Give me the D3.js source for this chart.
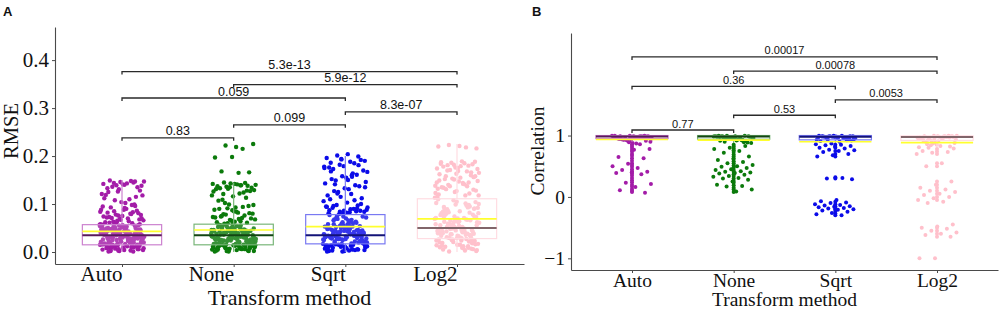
<!DOCTYPE html>
<html><head><meta charset="utf-8">
<script src="https://cdn.jsdelivr.net/npm/d3@7"></script>
<style>body{margin:0;background:#fff}svg{display:block}</style>
</head><body><svg id="c" width="1000" height="309"></svg>
<script>
// ---------- DATA ----------
const categories = ["Auto","None","Sqrt","Log2"];
const groupColors = ["#a31ca8","#0b7a0b","#0b0be8","#ffc0cb"];

// Panel A: RMSE
const rmseAuto = [0.031,0.012,0.047,0.005,0.026,0.038,0.019,0.052,0.008,0.034,0.041,0.015,0.029,0.003,0.056,0.022,0.036,0.010,0.044,0.027,
0.017,0.050,0.033,0.006,0.039,0.024,0.013,0.058,0.030,0.046,0.001,0.035,0.020,0.053,0.009,0.042,0.028,0.016,0.037,0.048,
0.023,0.004,0.032,0.055,0.014,0.040,0.025,0.011,0.045,0.034,0.018,0.060,0.007,0.030,0.043,0.021,0.036,0.002,0.051,0.027,
0.015,0.039,0.033,0.049,0.010,0.025,0.057,0.038,0.019,0.006,0.031,0.044,0.023,0.012,0.035,0.054,0.028,0.041,0.003,0.047,
0.064,0.071,0.068,0.075,0.062,0.083,0.078,0.066,0.090,0.073,0.086,0.069,0.095,0.080,0.063,0.077,0.088,0.072,0.099,0.065,
0.084,0.070,0.093,0.081,0.104,0.112,0.098,0.108,0.118,0.102,0.125,0.115,0.131,0.121,0.110,0.136,0.128,0.141,0.119,0.145,
0.139,0.147,0.143,0.149,0.135,0.146,0.142,0.148,0.144,0.138,0.140,0.133,0.147,0.126,
0.021,0.043,0.009,0.033,0.052,0.016,0.027,0.038,0.004,0.049,0.024,0.012,0.036,0.057,0.019,0.030,0.045,0.007,0.041,0.026,
0.014,0.054,0.032,0.002,0.047,0.022,0.039,0.011,0.059,0.028,0.035,0.017,0.050,0.005,0.042,0.024,0.031,0.013,0.056,0.037,
0.020,0.046,0.008,0.034,0.061,0.015,0.040,0.026,0.003,0.053,0.029,0.044,0.010,0.036,0.018,0.058,0.023,0.048,0.006,0.033,
0.039,0.013,0.051,0.027,0.043,0.001,0.030,0.055,0.016,0.037,0.025,0.047,0.009,0.041,0.020,0.062,0.032,0.012,0.045,0.028,
0.067,0.074,0.079,0.085,0.070,0.092,0.082,0.096,0.076,0.088];
const rmseNone = [0.029,0.011,0.045,0.004,0.033,0.020,0.052,0.008,0.037,0.026,0.015,0.041,0.002,0.030,0.055,0.018,0.035,0.009,0.047,0.024,
0.013,0.039,0.031,0.006,0.050,0.022,0.036,0.016,0.043,0.028,0.001,0.034,0.057,0.019,0.040,0.012,0.027,0.048,0.033,0.007,
0.023,0.044,0.014,0.038,0.030,0.053,0.010,0.025,0.036,0.003,0.042,0.017,0.032,0.059,0.021,0.046,0.005,0.035,0.028,0.039,
0.012,0.049,0.024,0.034,0.018,0.041,0.008,0.031,0.054,0.026,0.061,0.067,0.073,0.064,0.079,0.070,0.085,0.062,0.076,0.091,
0.068,0.082,0.074,0.096,0.065,0.088,0.071,0.102,0.080,0.093,0.107,0.113,0.099,0.118,0.122,0.109,0.127,0.116,0.131,0.124,
0.136,0.129,0.141,0.133,0.138,0.143,0.126,0.139,0.145,0.134,0.142,0.137,0.144,0.132,0.140,0.165,0.168,0.166,0.198,0.197,
0.215,0.222,0.225,0.219,
0.019,0.041,0.007,0.032,0.050,0.014,0.026,0.037,0.003,0.047,0.023,0.011,0.035,0.056,0.018,0.029,0.044,0.006,0.040,0.025,
0.013,0.052,0.031,0.001,0.046,0.021,0.038,0.010,0.058,0.027,0.034,0.016,0.049,0.004,0.042,0.023,0.030,0.012,0.055,0.036,
0.019,0.045,0.008,0.033,0.060,0.014,0.039,0.025,0.002,0.051,0.028,0.043,0.009,0.035,0.017,0.057,0.022,0.047,0.005,0.032,
0.038,0.012,0.050,0.026,0.042,0.002,0.029,0.054,0.015,0.036,0.024,0.046,0.008,0.040,0.020,0.063,0.031,0.011,0.044,0.027,
0.069,0.075,0.081,0.087,0.072,0.094,0.078,0.098,0.084,0.090,0.128,0.135,0.142,0.139,0.121];
const rmseSqrt = [0.030,0.010,0.048,0.004,0.036,0.021,0.060,0.014,0.041,0.026,0.007,0.053,0.033,0.018,0.070,0.002,0.045,0.028,0.012,0.064,
0.038,0.023,0.056,0.009,0.034,0.075,0.016,0.043,0.031,0.005,0.050,0.025,0.067,0.019,0.039,0.011,0.058,0.035,0.027,0.072,
0.003,0.046,0.022,0.062,0.032,0.015,0.052,0.040,0.008,0.077,0.029,0.055,0.017,0.037,0.066,0.024,0.044,0.001,0.035,0.069,
0.013,0.049,0.033,0.020,0.059,0.036,0.006,0.042,0.074,0.027,0.081,0.085,0.079,0.088,0.083,0.092,0.086,0.080,0.095,0.090,
0.098,0.084,0.103,0.110,0.097,0.115,0.106,0.121,0.127,0.112,0.133,0.118,0.139,0.125,0.146,0.131,0.152,0.137,0.158,0.143,
0.164,0.149,0.170,0.155,0.176,0.161,0.182,0.167,0.188,0.173,0.192,0.179,0.196,0.185,0.201,0.190,0.204,0.186,0.199,0.194,
0.178,0.160,
0.022,0.045,0.008,0.034,0.063,0.015,0.028,0.040,0.003,0.054,0.025,0.011,0.038,0.071,0.019,0.031,0.049,0.006,0.043,0.026,
0.013,0.058,0.033,0.002,0.051,0.022,0.040,0.010,0.066,0.029,0.036,0.017,0.053,0.005,0.045,0.024,0.032,0.012,0.061,0.038,
0.020,0.048,0.009,0.035,0.074,0.014,0.042,0.027,0.004,0.057,0.030,0.046,0.011,0.037,0.018,0.068,0.023,0.050,0.007,0.034,
0.041,0.013,0.056,0.028,0.044,0.001,0.031,0.060,0.016,0.039,0.082,0.087,0.091,0.084,0.093,0.089,0.096,0.100,0.086,0.094,
0.108,0.122,0.135,0.150,0.168,0.181,0.193,0.175,0.157,0.141];
const rmseLog2 = [0.005,0.032,0.061,0.014,0.047,0.089,0.023,0.070,0.040,0.009,0.055,0.100,0.028,0.076,0.018,0.050,0.110,0.036,0.083,0.002,
0.064,0.044,0.095,0.026,0.058,0.012,0.080,0.038,0.105,0.020,0.067,0.048,0.092,0.030,0.073,0.007,0.053,0.115,0.042,0.086,
0.016,0.062,0.034,0.098,0.025,0.069,0.052,0.011,0.078,0.045,0.120,0.027,0.059,0.004,0.085,0.039,0.066,0.021,0.102,0.049,
0.031,0.074,0.015,0.056,0.093,0.037,0.081,0.024,0.063,0.046,0.125,0.132,0.118,0.140,0.128,0.147,0.135,0.122,0.153,0.138,
0.144,0.158,0.130,0.163,0.149,0.168,0.137,0.173,0.155,0.178,0.160,0.182,0.145,0.185,0.170,0.188,0.175,0.184,0.180,0.186,
0.165,0.189,0.152,0.183,0.176,0.220,0.218,0.223,0.216,0.221,0.019,0.035,0.057,0.071,0.008,0.043,0.090,0.029,
0.010,0.038,0.066,0.017,0.051,0.094,0.027,0.074,0.044,0.003,0.059,0.104,0.033,0.081,0.022,0.054,0.113,0.041,0.087,0.006,
0.068,0.048,0.097,0.029,0.062,0.015,0.084,0.035,0.108,0.024,0.071,0.052,0.091,0.034,0.077,0.012,0.057,0.118,0.046,0.090,
0.020,0.065,0.039,0.101,0.030,0.073,0.055,0.013,0.082,0.049,0.123,0.142,0.131,0.156,0.127,0.162,0.137,0.171,0.148,0.179,
0.134,0.166,0.151,0.174,0.141,0.181,0.158,0.169,0.187,0.145,0.037,0.061,0.009,0.079,0.043,0.099,0.026,0.068,0.001,0.056];
const rmseQ1 = [0.015,0.015,0.017,0.028];
const rmseMedian = [0.035,0.035,0.035,0.050];
const rmseQ3 = [0.057,0.058,0.078,0.111];
const rmseMean = [0.043,0.046,0.053,0.069];
const rmseWhiskerLo = [0,0,0,0];
const rmseWhiskerHi = [0.150,0.145,0.200,0.225];
const rmseTicks = [0.0,0.1,0.2,0.3,0.4];
const rmseCompPairs = [["Auto","Log2"],["None","Log2"],["Auto","Sqrt"],["Sqrt","Log2"],["None","Sqrt"],["Auto","None"]];
const rmseCompP = ["5.3e-13","5.9e-12","0.059","8.3e-07","0.099","0.83"];
const rmseCompY = [0.376,0.349,0.321,0.292,0.265,0.238];

// Panel B: Correlation
const corrAuto = [0.99,0.97,0.995,0.96,0.985,0.93,0.975,0.99,0.95,0.98,0.92,0.995,0.965,0.94,0.985,0.91,0.97,0.99,0.955,0.90,
0.98,0.945,0.995,0.89,0.975,0.96,0.935,0.99,0.88,0.965,0.985,0.925,0.95,0.87,0.98,0.915,0.97,0.995,0.86,0.94,
0.78,0.77,0.65,0.63,0.54,0.50,0.47,0.44,0.41,0.40,0.39,0.37,0.23,0.21,0.16,0.11,0.07];
const corrNone = [0.99,0.975,0.995,0.96,0.985,0.94,0.97,0.99,0.95,0.98,0.93,0.995,0.965,0.92,0.985,0.91,0.975,0.99,0.955,0.90,
0.98,0.945,0.995,0.89,0.97,0.96,0.935,0.99,0.885,0.965,0.985,0.925,0.95,0.88,0.98,0.915,
0.83,0.80,0.78,0.75,0.72,0.66,0.62,0.60,0.57,0.55,0.52,0.50,0.49,0.47,0.45,0.44,0.42,0.41,0.40,0.39,0.38,0.36,0.34,0.33,
0.31,0.30,0.28,0.25,0.20,0.18,0.17,0.12,0.09];
const corrSqrt = [0.99,0.975,0.995,0.96,0.985,0.94,0.97,0.99,0.95,0.98,0.93,0.995,0.965,0.92,0.985,0.91,0.975,0.99,0.955,0.90,
0.98,0.945,0.995,0.97,0.96,0.935,0.99,0.965,0.985,0.925,
0.87,0.86,0.85,0.84,0.83,0.82,0.80,0.79,0.77,0.76,0.75,0.73,0.70,0.68,0.66,0.31,0.30,0.29,
-0.05,-0.07,-0.09,-0.10,-0.12,-0.13,-0.14,-0.15,-0.16,-0.17,-0.18,-0.19,-0.20,-0.21,-0.22,-0.24,-0.26,-0.28,-0.30];
const corrLog2 = [0.99,0.97,0.995,0.95,0.985,0.93,0.975,0.99,0.94,0.98,0.91,0.995,0.96,0.90,0.985,0.89,0.97,0.99,0.955,0.88,
0.98,0.92,0.995,0.87,0.965,0.945,0.86,0.99,0.85,0.96,0.975,0.84,0.935,0.83,0.98,0.82,0.95,0.81,0.975,0.80,0.79,0.905,
0.75,0.73,0.72,0.70,0.55,0.50,0.25,0.20,0.15,0.12,0.10,0.08,0.05,0.03,0.00,-0.02,-0.05,-0.08,-0.10,
-0.45,-0.48,-0.50,-0.52,-0.55,-0.58,-0.60,-0.62,-0.65,-1.00,-1.00];
const corrAutoOut = [0.86,0.83,0.80,0.77,0.74,0.70,0.67,0.63,0.59,0.55,0.52,0.49,0.45,0.42,0.38,0.35,0.31,0.27,0.24,0.20,0.17,0.13,0.10,0.08];
const corrNoneOut = [0.85,0.82,0.79,0.76,0.73,0.69,0.66,0.62,0.58,0.55,0.51,0.48,0.44,0.41,0.37,0.34,0.30,0.26,0.23,0.19,0.15,0.12,0.08];
const corrSqrtOut = [0.85,0.80,0.75,0.70,0.66,0.32,0.30,-0.08,-0.12,-0.15,-0.18,-0.20,-0.23,-0.27,-0.30];
const corrLog2Out = [0.78,0.74,0.70,0.55,0.50,0.25,0.20,0.15,0.10,0.05,0.00,-0.05,-0.50,-0.55,-0.60,-0.65];
const corrQ1 = [0.95,0.94,0.93,0.92];
const corrMedian = [0.985,0.985,0.98,0.975];
const corrQ3 = [1.0,1.0,1.0,0.995];
const corrMean = [0.935,0.925,0.90,0.885];
const corrWhiskerLo = [0.90,0.88,0.87,0.82];
const corrWhiskerHi = [1.0,1.0,1.0,1.0];
const corrTicks = [-1,0,1];
const corrCompPairs = [["Auto","Log2"],["None","Log2"],["Auto","Sqrt"],["Sqrt","Log2"],["None","Sqrt"],["Auto","None"]];
const corrCompP = ["0.00017","0.00078","0.36","0.0053","0.53","0.77"];
const corrCompY = [2.28,2.05,1.80,1.58,1.33,1.09];

// ---------- DRAW ----------
const svg = d3.select("#c");
const serif = "'Liberation Serif','Times New Roman',serif";
const sans = "'Liberation Sans',Arial,sans-serif";
const axisCol = "#4a4a4a";

function panel(o) {
  const x = d3.scalePoint(categories, o.xr).padding(0.6);
  const y = d3.scaleLinear(o.yd, o.yr);
  const step = x.step();
  const g = svg.append("g");
  const jit = i => (((i * 0.6180339887 + 0.21) % 1) - 0.5) * 2 * 0.2 * step;

  categories.forEach((c, k) => {
    g.append("g").selectAll("circle").data(o.values[k]).join("circle")
      .attr("cx", (d, i) => x(c) + jit(i + k * 7))
      .attr("cy", d => y(d))
      .attr("r", o.r)
      .attr("fill", groupColors[k]);
  });
  const bw = 0.71 * step;
  categories.forEach((c, k) => {
    const col = groupColors[k];
    const light = d3.interpolateRgb(col, "#ffffff")(0.45);
    const dark = d3.interpolateRgb(col, "#1a1a1a")(0.55);
    const cx = x(c);
    g.append("line").attr("x1", cx).attr("x2", cx)
      .attr("y1", y(o.q3[k])).attr("y2", y(o.wHi[k]))
      .attr("stroke", light).attr("stroke-width", 1.2);
    g.append("line").attr("x1", cx).attr("x2", cx)
      .attr("y1", y(o.q1[k])).attr("y2", y(o.wLo[k]))
      .attr("stroke", light).attr("stroke-width", 1.2);
    g.append("rect").attr("x", cx - bw / 2).attr("width", bw)
      .attr("y", y(o.q3[k])).attr("height", y(o.q1[k]) - y(o.q3[k]))
      .attr("fill", "#ffffff").attr("fill-opacity", 0.18)
      .attr("stroke", light).attr("stroke-width", 1.2);
    g.append("line").attr("x1", cx - bw / 2).attr("x2", cx + bw / 2)
      .attr("y1", y(o.mean[k])).attr("y2", y(o.mean[k]))
      .attr("stroke", "#ffff2e").attr("stroke-width", 1.6);
    g.append("line").attr("x1", cx - bw / 2).attr("x2", cx + bw / 2)
      .attr("y1", y(o.med[k])).attr("y2", y(o.med[k]))
      .attr("stroke", dark).attr("stroke-width", 2);
    if (o.out) {
      g.append("g").selectAll("circle").data(o.out[k]).join("circle")
        .attr("cx", cx).attr("cy", d => y(d)).attr("r", o.r).attr("fill", col);
    }
  });

  const ya = g.append("g").attr("transform", `translate(${o.xr[0]},0)`)
    .call(d3.axisLeft(y).tickValues(o.ticks).tickSize(3).tickSizeOuter(0).tickPadding(3)
      .tickFormat(o.tfmt));
  ya.select(".domain").attr("stroke", axisCol).attr("stroke-width", 1.1);
  ya.selectAll(".tick line").attr("stroke", axisCol);
  ya.selectAll(".tick text").attr("font-family", serif).attr("font-size", o.tickFs).attr("fill", "#111");

  const xa = g.append("g").attr("transform", `translate(0,${o.yr[0]})`)
    .call(d3.axisBottom(x).tickSize(3).tickSizeOuter(0).tickPadding(3));
  xa.select(".domain").attr("stroke", axisCol).attr("stroke-width", 1.1);
  xa.selectAll(".tick line").attr("stroke", axisCol);
  xa.selectAll(".tick text").attr("font-family", serif).attr("font-size", o.catFs).attr("fill", "#111")
    .attr("y", null).attr("dy", null)
    .attr("transform", `translate(0,${o.catBase - o.yr[0]})`)
    .attr("text-anchor", o.catAnchor);

  o.pairs.forEach((p, i) => {
    const x1 = x(p[0]), x2 = x(p[1]), yy = y(o.compY[i]);
    g.append("path")
      .attr("d", `M${x1},${yy + 3}V${yy}H${x2}V${yy + 3}`)
      .attr("fill", "none").attr("stroke", "#2a2a2a").attr("stroke-width", 1.3);
    g.append("text").attr("x", (x1 + x2) / 2).attr("y", yy - 2.5)
      .attr("text-anchor", "middle").attr("font-family", sans)
      .attr("font-size", o.pFs).attr("fill", "#111").text(o.pvals[i]);
  });

  g.append("text").attr("x", (o.xr[0] + o.xr[1]) / 2).attr("y", o.titleBase)
    .attr("text-anchor", "middle").attr("font-family", serif)
    .attr("font-size", o.titleFs).attr("fill", "#111").text("Transform method");
  g.append("text").attr("transform", `translate(${o.ytX},${o.ytY}) rotate(-90)`)
    .attr("text-anchor", "middle").attr("font-family", serif)
    .attr("font-size", o.ytFs).attr("fill", "#111").text(o.ytitle);
  g.append("text").attr("x", o.letterX).attr("y", 16)
    .attr("font-family", sans).attr("font-weight", "bold").attr("font-size", 13)
    .attr("fill", "#111").text(o.letter);
}

panel({
  xr: [55, 524], yd: [-0.025, 0.469], yr: [264, 27],
  values: [rmseAuto, rmseNone, rmseSqrt, rmseLog2], r: 2.2,
  q1: rmseQ1, med: rmseMedian, q3: rmseQ3, mean: rmseMean, wLo: rmseWhiskerLo, wHi: rmseWhiskerHi,
  ticks: rmseTicks, tfmt: d3.format(".1f"), tickFs: 21, catFs: 21, catBase: 281, catAnchor: "end",
  pairs: rmseCompPairs, pvals: rmseCompP, compY: rmseCompY, pFs: 12.5,
  titleFs: 22, titleBase: 305, ytitle: "RMSE", ytFs: 20.5, ytX: 18, ytY: 131, letter: "A", letterX: 3
});
panel({
  xr: [571, 998], yd: [-1.19, 2.67], yr: [270, 33],
  values: [corrAuto, corrNone, corrSqrt, corrLog2], r: 2.0,
  out: [corrAutoOut, corrNoneOut, corrSqrtOut, corrLog2Out],
  q1: corrQ1, med: corrMedian, q3: corrQ3, mean: corrMean, wLo: corrWhiskerLo, wHi: corrWhiskerHi,
  ticks: corrTicks, tfmt: d3.format("d"), tickFs: 19.5, catFs: 19.5, catBase: 287, catAnchor: "middle",
  pairs: corrCompPairs, pvals: corrCompP, compY: corrCompY, pFs: 11,
  titleFs: 19.5, titleBase: 306, ytitle: "Correlation", ytFs: 19.5, ytX: 544, ytY: 151, letter: "B", letterX: 532
});
</script>
</body></html>
